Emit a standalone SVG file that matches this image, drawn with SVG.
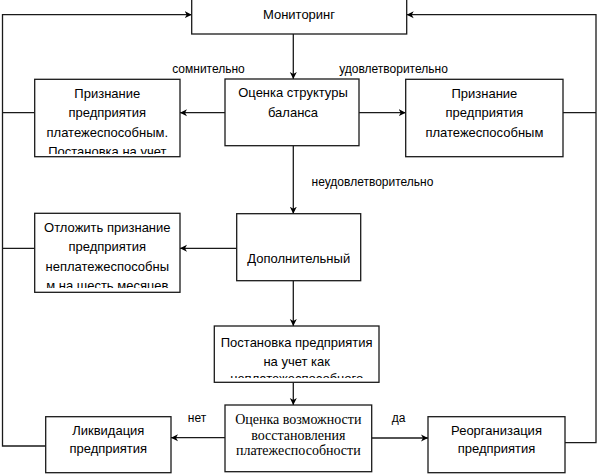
<svg xmlns="http://www.w3.org/2000/svg" width="599" height="474" viewBox="0 0 599 474">
<style>
.box{fill:#fff;stroke:#1a1a1a;stroke-width:1.3}
.t{font-family:"Liberation Sans",Arial,sans-serif;font-size:13px;fill:#000;text-anchor:middle}
.s{font-family:"Liberation Serif","Times New Roman",serif;font-size:14px;fill:#000;text-anchor:middle}
.l{font-family:"Liberation Sans",Arial,sans-serif;font-size:12px;fill:#000;text-anchor:middle}
.c{fill:none;stroke:#1a1a1a;stroke-width:1.3}
</style>
<defs>
<marker id="ah" markerWidth="8" markerHeight="8" refX="7" refY="4" orient="auto" markerUnits="userSpaceOnUse">
<path d="M0,0.5 L7,4 L0,7.5 L2,4 z" fill="#000"/>
</marker>
<clipPath id="c1"><rect x="34.7" y="79.3" width="145.3" height="74.7"/></clipPath>
<clipPath id="c2"><rect x="34.7" y="213.3" width="145.3" height="74.7"/></clipPath>
<clipPath id="c3"><rect x="214.3" y="326" width="164.7" height="52"/></clipPath>
</defs>
<g id="connectors">
<path class="c" d="M293.3,34 V79" marker-end="url(#ah)"/>
<path class="c" d="M225,112.7 H180" marker-end="url(#ah)"/>
<path class="c" d="M359,112.7 H405.7" marker-end="url(#ah)"/>
<path class="c" d="M293.3,145.7 V213.7" marker-end="url(#ah)"/>
<path class="c" d="M236.7,248.3 H180" marker-end="url(#ah)"/>
<path class="c" d="M293.3,280.7 V326" marker-end="url(#ah)"/>
<path class="c" d="M293.3,382.3 V405" marker-end="url(#ah)"/>
<path class="c" d="M225,437.7 H171" marker-end="url(#ah)"/>
<path class="c" d="M371.7,438 H428" marker-end="url(#ah)"/>
<path class="c" d="M45.7,446 H2.5 V14.7 H191.7" marker-end="url(#ah)"/>
<path class="c" d="M34.7,112.7 H2.5"/>
<path class="c" d="M34.7,248.3 H2.5"/>
<path class="c" d="M565,442.7 H596 V14.7 H406.7" marker-end="url(#ah)"/>
<path class="c" d="M563,112.7 H596"/>
<text class="l" x="208.5" y="73">сомнительно</text>
<text class="l" x="393.5" y="73">удовлетворительно</text>
<text class="l" x="372.5" y="186">неудовлетворительно</text>
<text class="l" x="197" y="422">нет</text>
<text class="l" x="398.5" y="422">да</text>
</g>
<g id="monitoring">
<rect class="box" x="191.7" y="-1" width="215" height="35"/>
<text class="t" x="299" y="18.5">Мониторинг</text>
</g>
<g id="balance">
<rect class="box" x="225" y="79" width="134" height="66.7"/>
<text class="t" x="293" y="96.7">Оценка структуры</text>
<text class="t" x="293" y="116.7">баланса</text>
</g>
<g id="doubtful">
<rect class="box" x="34.7" y="79.3" width="145.3" height="77.4"/>
<g clip-path="url(#c1)">
<text class="t" x="107.3" y="97.5">Признание</text>
<text class="t" x="107.3" y="117">предприятия</text>
<text class="t" x="107.3" y="136.5">платежеспособным.</text>
<text class="t" x="107.3" y="156">Постановка на учет</text>
</g>
</g>
<g id="satisfactory">
<rect class="box" x="405.7" y="79.3" width="157.3" height="77.4"/>
<text class="t" x="484.4" y="97.5">Признание</text>
<text class="t" x="484.4" y="117">предприятия</text>
<text class="t" x="484.4" y="136.5">платежеспособным</text>
</g>
<g id="additional">
<rect class="box" x="236.7" y="213.7" width="124" height="67"/>
<text class="t" x="298.7" y="263">Дополнительный</text>
</g>
<g id="postpone">
<rect class="box" x="34.7" y="213.3" width="145.3" height="79"/>
<g clip-path="url(#c2)">
<text class="t" x="107.3" y="231.7">Отложить признание</text>
<text class="t" x="107.3" y="251.2">предприятия</text>
<text class="t" x="107.3" y="270.7">неплатежеспособны</text>
<text class="t" x="107.3" y="290.2">м на шесть месяцев</text>
</g>
</g>
<g id="register">
<rect class="box" x="214.3" y="326" width="164.7" height="56.3"/>
<g clip-path="url(#c3)">
<text class="t" x="296.7" y="347.3">Постановка предприятия</text>
<text class="t" x="296.7" y="366">на учет как</text>
<text class="t" x="296.7" y="383">неплатежеспособного</text>
</g>
</g>
<g id="recovery">
<rect class="box" x="225" y="405" width="146.7" height="66.7"/>
<text class="s" x="298.3" y="424">Оценка возможности</text>
<text class="s" x="298.3" y="439.5">восстановления</text>
<text class="s" x="298.3" y="455">платежеспособности</text>
</g>
<g id="liquidation">
<rect class="box" x="45.7" y="416.7" width="125.3" height="56"/>
<text class="t" x="108.3" y="434.5">Ликвидация</text>
<text class="t" x="108.3" y="453">предприятия</text>
</g>
<g id="reorganization">
<rect class="box" x="428" y="416.7" width="137" height="56"/>
<text class="t" x="496.5" y="434.5">Реорганизация</text>
<text class="t" x="496.5" y="453">предприятия</text>
</g>
</svg>
